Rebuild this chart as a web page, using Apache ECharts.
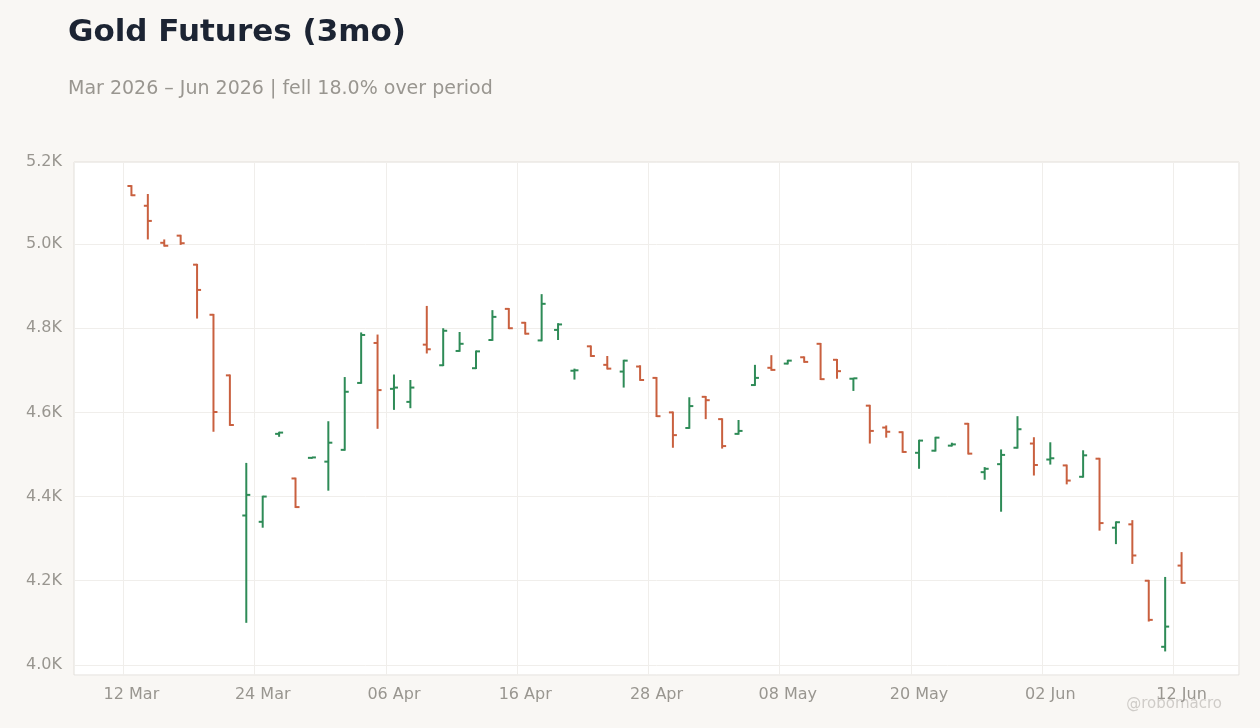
<!DOCTYPE html>
<html><head><meta charset="utf-8">
<script src="https://cdn.jsdelivr.net/npm/echarts@6/dist/echarts.min.js"></script>
<style>html,body{margin:0;padding:0;background:#f9f7f4;}#c{width:1260px;height:728px;}</style>
</head><body><div id="c"></div>
<script>
const dates = ['12 Mar','13 Mar','16 Mar','17 Mar','18 Mar','19 Mar','20 Mar','23 Mar','24 Mar','25 Mar','26 Mar','27 Mar','30 Mar','31 Mar','01 Apr','02 Apr','06 Apr','07 Apr','08 Apr','09 Apr','10 Apr','13 Apr','14 Apr','15 Apr','16 Apr','17 Apr','20 Apr','21 Apr','22 Apr','23 Apr','24 Apr','27 Apr','28 Apr','29 Apr','30 Apr','01 May','04 May','05 May','06 May','07 May','08 May','11 May','12 May','13 May','14 May','15 May','18 May','19 May','20 May','21 May','22 May','26 May','27 May','28 May','29 May','01 Jun','02 Jun','03 Jun','04 Jun','05 Jun','08 Jun','09 Jun','10 Jun','11 Jun','12 Jun'];
const open  = [5138,5091,5003,5020,4951,4832,4688,4355,4340,4549,4443,4492,4483,4511,4670,4765,4656,4625,4761,4712,4746,4705,4772,4846,4813,4771,4796,4699,4757,4713,4697,4709,4682,4600,4563,4637,4584,4549,4665,4706,4716,4731,4763,4725,4680,4616,4564,4553,4504,4509,4521,4573,4458,4477,4516,4526,4488,4474,4447,4490,4326,4334,4200,4043,4236];
const high  = [5140,5119,5011,5022,4953,4834,4690,4480,4402,4554,4445,4494,4579,4684,4790,4785,4690,4677,4853,4800,4791,4747,4843,4848,4815,4881,4812,4704,4759,4734,4725,4712,4684,4602,4636,4639,4586,4582,4713,4736,4725,4733,4765,4727,4682,4618,4569,4555,4535,4542,4528,4575,4470,4512,4591,4541,4529,4476,4510,4492,4341,4344,4202,4209,4268];
const low   = [5114,5011,4994,4998,4823,4554,4568,4100,4326,4542,4373,4490,4414,4509,4668,4561,4606,4610,4740,4710,4744,4703,4770,4798,4785,4769,4772,4678,4732,4702,4659,4675,4589,4516,4561,4584,4514,4547,4663,4699,4714,4718,4677,4680,4651,4526,4540,4504,4466,4507,4519,4500,4440,4364,4514,4450,4476,4429,4445,4319,4287,4240,4103,4032,4193];
const close = [5116,5055,4996,5002,4891,4601,4570,4404,4400,4552,4375,4493,4528,4649,4784,4653,4659,4659,4750,4794,4763,4745,4827,4800,4787,4858,4809,4700,4734,4704,4723,4677,4591,4546,4615,4629,4520,4556,4682,4701,4723,4720,4679,4698,4681,4556,4554,4506,4533,4540,4524,4502,4466,4499,4560,4475,4491,4438,4498,4337,4339,4260,4107,4091,4195];

const PAD = 3;
const cats = [...Array(PAD).fill(''), ...dates, ...Array(PAD).fill('')].map((d,i)=> d || ('_'+i));
const rows = dates.map((d,i)=>[i+PAD, open[i], close[i], low[i], high[i]]);
const showIdx = i => i>=PAD && i<PAD+dates.length && (i-PAD)%8===0;
const UP='#2e8b57', DOWN='#c9603f';

const chart = echarts.init(document.getElementById('c'));
chart.setOption({
  backgroundColor:'#f9f7f4',
  title:[
    {text:'Gold Futures (3mo)', left:63, top:12, textStyle:{fontFamily:'DejaVu Sans',fontSize:31,fontWeight:'bold',color:'#1c2433'}},
    {text:'Mar 2026 – Jun 2026 | fell 18.0% over period', left:63, top:75, textStyle:{fontFamily:'DejaVu Sans',fontSize:19,fontWeight:'normal',color:'#999690'}}
  ],
  graphic:[{type:'text', right:38, top:697, style:{text:'@robomacro', fill:'#cfccc8', font:'15px DejaVu Sans'}}],
  grid:{left:74, right:21, top:162, bottom:53, show:true, backgroundColor:'#ffffff', borderColor:'#e2dfda', borderWidth:1},
  xAxis:{type:'category', data:cats, boundaryGap:true,
    axisLine:{show:false}, axisTick:{show:false},
    axisLabel:{interval:(i)=>showIdx(i), formatter:v=>v.startsWith('_')?'':v, color:'#999690', fontSize:16, fontFamily:'DejaVu Sans', margin:12},
    splitLine:{show:true, interval:(i)=>showIdx(i), lineStyle:{color:'#f0eeeb'}}},
  yAxis:{type:'value', min:3976, max:5195, splitNumber:6,
    axisLine:{show:false}, axisTick:{show:false},
    axisLabel:{formatter:v=>(v/1000).toFixed(1)+'K', color:'#999690', fontSize:16, fontFamily:'DejaVu Sans', margin:12},
    splitLine:{lineStyle:{color:'#f0eeeb'}}},
  series:[{
    type:'custom', data:rows, encode:{x:0,y:[1,2,3,4]},
    renderItem:(params, api)=>{
      const x=api.value(0), o=api.value(1), c=api.value(2), l=api.value(3), h=api.value(4);
      const pO=api.coord([x,o]), pC=api.coord([x,c]), pL=api.coord([x,l]), pH=api.coord([x,h]);
      const col = c>=o?UP:DOWN, t=4;
      const st={stroke:col, lineWidth:2};
      return {type:'group', children:[
        {type:'line', shape:{x1:pH[0],y1:pH[1],x2:pL[0],y2:pL[1]}, style:st},
        {type:'line', shape:{x1:pO[0]-t,y1:pO[1],x2:pO[0],y2:pO[1]}, style:st},
        {type:'line', shape:{x1:pC[0],y1:pC[1],x2:pC[0]+t,y2:pC[1]}, style:st}
      ]};
    }
  }]
});
</script></body></html>
